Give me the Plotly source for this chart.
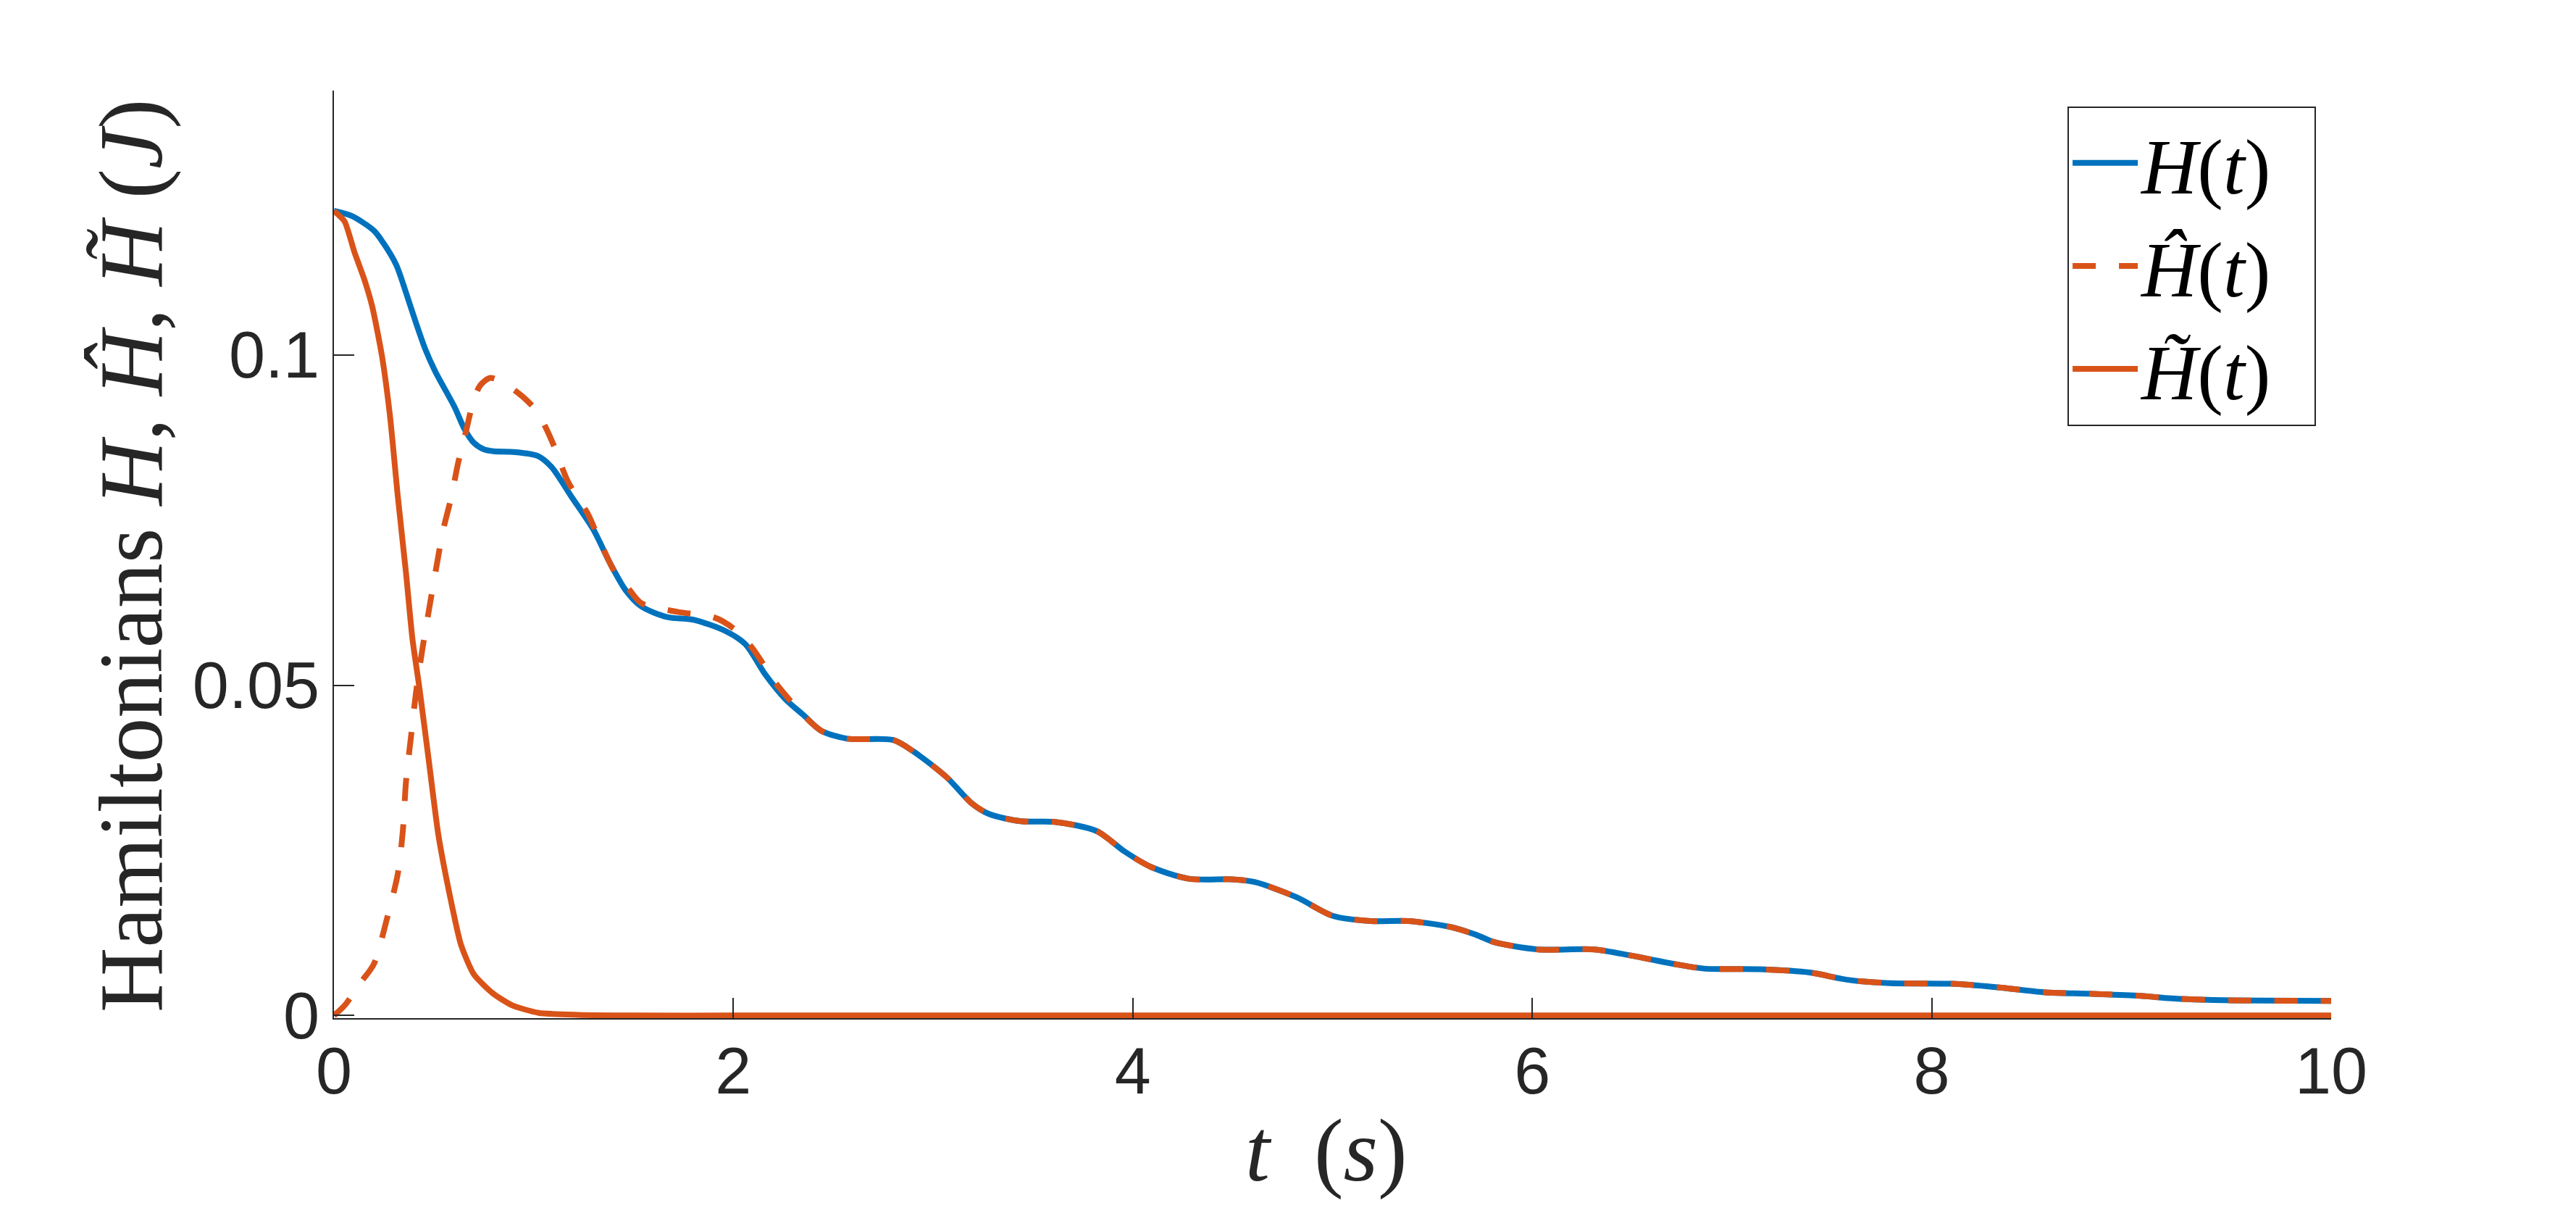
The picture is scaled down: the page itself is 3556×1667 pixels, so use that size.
import plotly.graph_objects as go

# ---- data ----
t_H = [0, 0.09, 0.2, 0.248, 0.312, 0.361, 0.41, 0.458, 0.507, 0.604, 0.653, 0.70, 0.75, 0.8,
       0.9, 1.02, 1.09, 1.19, 1.3, 1.38, 1.46, 1.54, 1.67, 1.8, 1.96, 2.06, 2.16, 2.26, 2.35,
       2.44, 2.57, 2.8, 2.9, 3.07, 3.19, 3.28, 3.44, 3.61, 3.82, 3.96, 4.09, 4.28, 4.5, 4.61,
       4.82, 5.0, 5.19, 5.38, 5.59, 5.72, 5.81, 6.03, 6.31, 6.49, 6.71, 6.86, 7.14, 7.39, 7.58,
       7.79, 8.1, 8.32, 8.57, 8.79, 9.03, 9.25, 9.5, 10.0]
H = [0.1218, 0.121, 0.1188, 0.1169, 0.1136, 0.1094, 0.1049, 0.1008, 0.0975, 0.0921, 0.0888,
     0.0867, 0.0857, 0.0854, 0.0853, 0.0847, 0.083, 0.0785, 0.0735, 0.0686, 0.0644, 0.0619,
     0.0603, 0.0599, 0.0582, 0.0562, 0.0516, 0.0479, 0.0455, 0.0431, 0.0419, 0.0417, 0.040,
     0.036, 0.0322, 0.0305, 0.0294, 0.0293, 0.0279, 0.0248, 0.0225, 0.0207, 0.0206, 0.0202,
     0.0179, 0.0151, 0.0143, 0.0143, 0.0134, 0.0122, 0.0111, 0.0100, 0.0100, 0.0091, 0.0078,
     0.0071, 0.0070, 0.0065, 0.0054, 0.0049, 0.0048, 0.0043, 0.0035, 0.0033, 0.0030, 0.0025,
     0.0023, 0.0022]

t_Hhat = [0, 0.053, 0.134, 0.2, 0.264, 0.32, 0.345, 0.361, 0.385, 0.41, 0.442, 0.474, 0.507,
          0.547, 0.588, 0.62, 0.661, 0.701, 0.733, 0.782, 0.847, 0.944, 1.009, 1.057, 1.106,
          1.17, 1.27, 1.33, 1.41, 1.48, 1.54, 1.72, 1.9, 2.0, 2.09, 2.22, 2.35,
          2.44, 2.57, 2.8, 2.9, 3.07, 3.19, 3.28, 3.44, 3.61, 3.82, 3.96, 4.09, 4.28, 4.5, 4.61,
          4.82, 5.0, 5.19, 5.38, 5.59, 5.72, 5.81, 6.03, 6.31, 6.49, 6.71, 6.86, 7.14, 7.39, 7.58,
          7.79, 8.1, 8.32, 8.57, 8.79, 9.03, 9.25, 9.5, 10.0]
H_hat = [0, 0.0015, 0.005, 0.0078, 0.0145, 0.0215, 0.028, 0.0355, 0.042, 0.0487, 0.0553,
         0.0611, 0.0669, 0.0735, 0.0785, 0.0834, 0.0884, 0.0933, 0.0954, 0.0965, 0.0958,
         0.0937, 0.0917, 0.0892, 0.0859, 0.0809, 0.076, 0.0719, 0.0669, 0.0644, 0.0624, 0.0611,
         0.0603, 0.0586, 0.0558, 0.050, 0.0455,
         0.0431, 0.0419, 0.0417, 0.040, 0.036, 0.0322, 0.0305, 0.0294, 0.0293, 0.0279, 0.0248,
         0.0225, 0.0207, 0.0206, 0.0202, 0.0179, 0.0151, 0.0143, 0.0143, 0.0134, 0.0122, 0.0111,
         0.0100, 0.0100, 0.0091, 0.0078, 0.0071, 0.0070, 0.0065, 0.0054, 0.0049, 0.0048, 0.0043,
         0.0035, 0.0033, 0.0030, 0.0025, 0.0023, 0.0022]

t_Htil = [0, 0.053, 0.102, 0.151, 0.191, 0.24, 0.28, 0.32, 0.361, 0.393, 0.426, 0.474, 0.523,
          0.58, 0.636, 0.701, 0.798, 0.895, 1.025, 1.22, 1.5, 2.0, 4.0, 6.0, 8.0, 10.0]
H_til = [0.1218, 0.1202, 0.1156, 0.1115, 0.1074, 0.0999, 0.0909, 0.0785, 0.0669, 0.057, 0.050,
         0.0388, 0.0273, 0.0182, 0.0107, 0.0062, 0.0033, 0.0015, 0.0004, 0.0001, 0.0, 0.0, 0.0,
         0.0, 0.0, 0.0]

x_ticks = [0, 2, 4, 6, 8, 10]
y_ticks = [0, 0.05, 0.1]
y_tick_labels = ["0", "0.05", "0.1"]

BLUE = "#0072BD"
ORANGE = "#D95319"
AX = "#262626"
SERIF = "Liberation Serif, Times New Roman, serif"
SANS = "Liberation Sans, Arial, Helvetica, sans-serif"

fig = go.Figure()
fig.add_trace(go.Scatter(x=t_H, y=H, mode="lines", name="<i>H</i>(<i>t</i>)\u00a0\u00a0",
                         line=dict(color=BLUE, width=8, shape="spline", smoothing=0.8)))
fig.add_trace(go.Scatter(x=t_Hhat, y=H_hat, mode="lines", name="<i>Ĥ</i>(<i>t</i>)\u00a0\u00a0",
                         line=dict(color=ORANGE, width=8, shape="spline", smoothing=0.8,
                                   dash="32px,32px")))
fig.add_trace(go.Scatter(x=t_Htil, y=H_til, mode="lines",
                         name="<i>H\u0303</i>(<i>t</i>)\u00a0\u00a0",
                         line=dict(color=ORANGE, width=8, shape="spline", smoothing=0.6)))

fig.update_layout(
    width=3556, height=1667,
    margin=dict(l=461, r=338, t=125, b=262, pad=0),
    paper_bgcolor="white", plot_bgcolor="white",
    showlegend=True,
    legend=dict(x=0.868, y=0.983, xanchor="left", yanchor="top",
                bgcolor="white", bordercolor=AX, borderwidth=2,
                font=dict(family=SERIF, size=107, color="black"),
                itemwidth=90, tracegroupgap=0),
    xaxis=dict(range=[0, 10], tickvals=x_ticks, ticks="inside", ticklen=28, tickwidth=2,
               tickcolor=AX, showline=True, linecolor=AX, linewidth=2, showgrid=False,
               zeroline=False, mirror=False, automargin=False, ticklabelstandoff=-6,
               tickfont=dict(family=SANS, size=90, color=AX)),
    yaxis=dict(range=[-0.0004, 0.14], tickvals=y_ticks, ticktext=y_tick_labels,
               ticks="inside", ticklen=28, tickwidth=2, tickcolor=AX,
               showline=True, linecolor=AX, linewidth=2, showgrid=False, zeroline=False,
               mirror=False, automargin=False,
               tickfont=dict(family=SANS, size=90, color=AX)),
    annotations=[
        dict(text="<i>t</i>\u00a0\u00a0(<i>s</i>)", xref="paper", yref="paper",
             x=0.497, y=(1405 - 1588) / 1280, xanchor="center", yanchor="middle",
             showarrow=False, font=dict(family=SERIF, size=122, color=AX)),
        dict(text="Hamiltonians <i>H</i>, <i>Ĥ</i>, <i>H\u0303</i> (<i>J</i>)",
             xref="paper", yref="paper", textangle=-90,
             x=(181 - 461) / 2757, y=(1405 - 767) / 1280, xanchor="center", yanchor="middle",
             showarrow=False, font=dict(family=SERIF, size=124, color=AX)),
    ],
)

fig.write_html("out.html", config={"displayModeBar": False},
               post_script="document.body.style.margin='0';")
